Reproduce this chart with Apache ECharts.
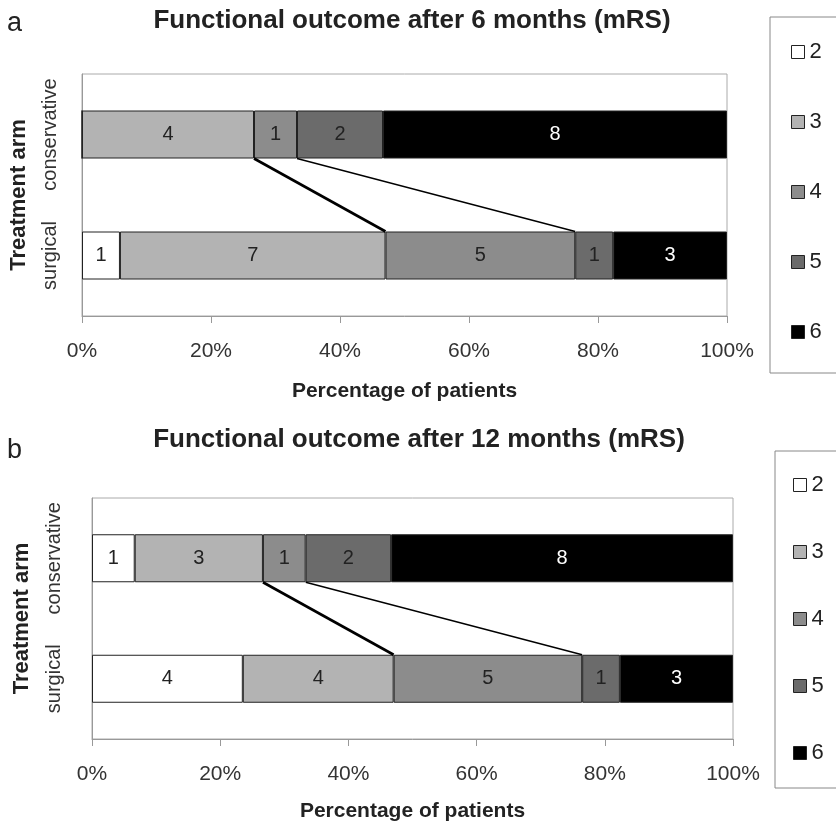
<!DOCTYPE html>
<html>
<head>
<meta charset="utf-8">
<script src="https://cdn.jsdelivr.net/npm/echarts@6/dist/echarts.min.js"></script>
<style>
  html, body { margin: 0; padding: 0; background: #fff; }
  #chart { width: 836px; height: 825px; }
</style>
</head>
<body>
<div id="chart"></div>
<script>
// mRS levels (legend) and treatment arms (y categories)
const mrsLevels = ["2", "3", "4", "5", "6"];
const arms = ["conservative", "surgical"];
// patient counts per mRS level
const m6Conservative = [0, 4, 1, 2, 8];
const m6Surgical = [1, 7, 5, 1, 3];
const m12Conservative = [1, 3, 1, 2, 8];
const m12Surgical = [4, 4, 5, 1, 3];
const xTicks = [0, 20, 40, 60, 80, 100];

const colors = ["#ffffff", "#b3b3b3", "#8c8c8c", "#6b6b6b", "#000000"];
const font = "Liberation Sans, Arial, sans-serif";
const barW = 48;

function sum(a) { return a.reduce((s, v) => s + v, 0); }
function cum(a, n) { return sum(a.slice(0, n)) / sum(a) * 100; }

function barSeries(cons, surg, gi) {
  return mrsLevels.map((lvl, i) => ({
    name: lvl,
    type: "bar",
    stack: "s" + gi,
    xAxisIndex: gi,
    yAxisIndex: gi,
    barWidth: barW,
    itemStyle: { color: colors[i], borderColor: "#222", borderWidth: 1 },
    label: {
      show: true,
      position: "inside",
      fontFamily: font,
      fontSize: 20,
      color: i === 4 ? "#fff" : "#222",
      formatter: p => (p.data.count ? String(p.data.count) : "")
    },
    data: [
      { value: cons[i] / sum(cons) * 100, count: cons[i] },
      { value: surg[i] / sum(surg) * 100, count: surg[i] }
    ]
  }));
}

// lines joining the mRS<=3 and mRS<=4 boundaries of both arms
const lineWidths = [2.6, 1.3];
function linkSeries(cons, surg, gi) {
  return {
    type: "custom",
    xAxisIndex: gi,
    yAxisIndex: gi,
    silent: true,
    z: 5,
    data: [[cum(cons, 2), cum(surg, 2)], [cum(cons, 3), cum(surg, 3)]],
    renderItem: (params, api) => {
      const a = api.coord([api.value(0), 0]);
      const b = api.coord([api.value(1), 1]);
      return {
        type: "line",
        shape: { x1: a[0], y1: a[1] + barW / 2, x2: b[0], y2: b[1] - barW / 2 },
        style: { stroke: "#000", lineWidth: lineWidths[params.dataIndex] }
      };
    }
  };
}

function xAxis(gi, nameGap) {
  return {
    type: "value",
    gridIndex: gi,
    min: 0,
    max: 100,
    interval: 20,
    name: "Percentage of patients",
    nameLocation: "middle",
    nameGap: nameGap,
    nameTextStyle: { fontFamily: font, fontSize: 21, fontWeight: "bold", color: "#222" },
    axisLine: { show: true, lineStyle: { color: "#999" } },
    axisTick: { show: true, length: 7, lineStyle: { color: "#999" } },
    axisLabel: {
      margin: 25,
      fontFamily: font,
      fontSize: 21,
      color: "#333",
      formatter: v => (xTicks.includes(v) ? v + "%" : "")
    },
    splitLine: { show: false }
  };
}

function yAxis(gi, nameGap, margin) {
  return {
    type: "category",
    gridIndex: gi,
    data: arms,
    inverse: true,
    name: "Treatment arm",
    nameLocation: "middle",
    nameRotate: 90,
    nameGap: nameGap,
    nameTextStyle: { fontFamily: font, fontSize: 22, fontWeight: "bold", color: "#222" },
    axisLine: { show: true, lineStyle: { color: "#999" } },
    axisTick: { show: false },
    axisLabel: { interval: 0, rotate: 90, margin: margin, fontFamily: font, fontSize: 20, color: "#333" }
  };
}

function legend(left, top, gap, pad) {
  return {
    orient: "vertical",
    left: left,
    top: top,
    data: mrsLevels,
    icon: "rect",
    itemWidth: 13,
    itemHeight: 13,
    itemGap: gap,
    padding: pad,
    borderColor: "#888",
    borderWidth: 1,
    selectedMode: false,
    itemStyle: { borderColor: "#222", borderWidth: 1 },
    textStyle: { fontFamily: font, fontSize: 22, color: "#222" }
  };
}

const titleStyle = { fontFamily: font, fontSize: 26, fontWeight: "bold", color: "#222" };
const letterStyle = { fontFamily: font, fontSize: 27, fontWeight: "normal", color: "#222" };

const chart = echarts.init(document.getElementById("chart"));
chart.setOption({
  backgroundColor: "#fff",
  animation: false,
  title: [
    { text: "a", left: 7, top: 10, padding: 0, textStyle: letterStyle },
    { text: "Functional outcome after 6 months (mRS)", left: 412, top: 8, padding: 0, textAlign: "center", textStyle: titleStyle },
    { text: "b", left: 7, top: 437, padding: 0, textStyle: letterStyle },
    { text: "Functional outcome after 12 months (mRS)", left: 419, top: 427, padding: 0, textAlign: "center", textStyle: titleStyle }
  ],
  legend: [
    legend(770, 17, 48, [24, 20, 30, 21]),
    legend(775, 451, 45, [23, 20, 24, 18])
  ],
  grid: [
    { left: 80, top: 74, width: 647, height: 242, show: true, borderColor: "#aaa", borderWidth: 1 },
    { left: 92, top: 498, width: 641, height: 241, show: true, borderColor: "#aaa", borderWidth: 1 }
  ],
  xAxis: [xAxis(0, 65), xAxis(1, 62)],
  yAxis: [yAxis(0, 52, 22), yAxis(1, 59, 28)],
  series: [
    ...barSeries(m6Conservative, m6Surgical, 0),
    linkSeries(m6Conservative, m6Surgical, 0),
    ...barSeries(m12Conservative, m12Surgical, 1),
    linkSeries(m12Conservative, m12Surgical, 1)
  ]
});
</script>
</body>
</html>
